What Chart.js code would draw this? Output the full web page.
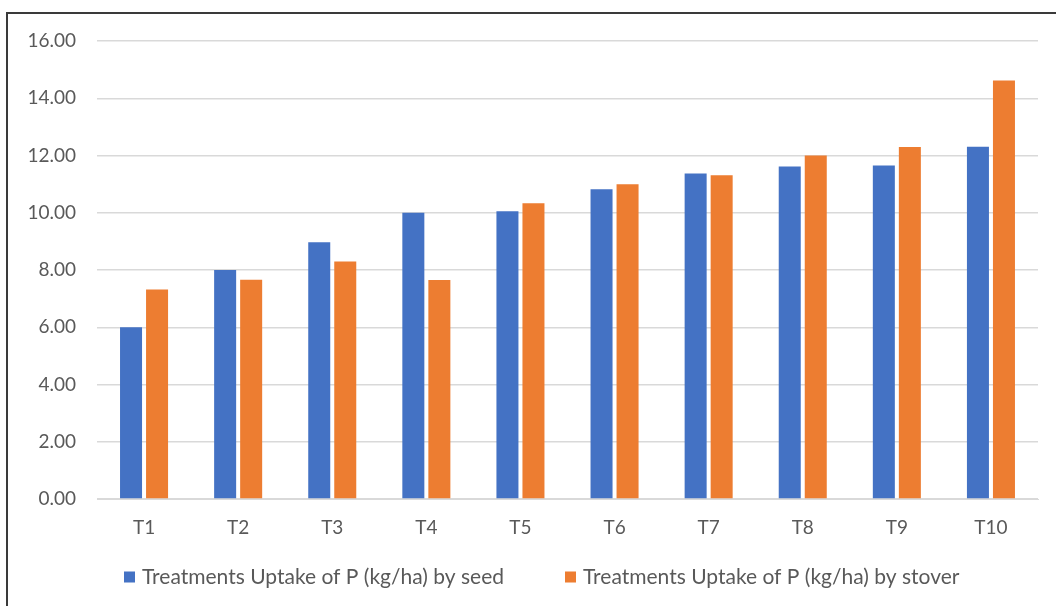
<!DOCTYPE html>
<html>
<head>
<meta charset="utf-8">
<script src="https://cdn.jsdelivr.net/npm/chart.js@4.4.0/dist/chart.umd.min.js"></script>
<style>
  html, body { margin: 0; padding: 0; background: #fff; }
  #wrap { position: relative; width: 1056px; height: 606px; overflow: hidden; }
  #frame { position: absolute; left: 6px; top: 12px; width: 1080px; height: 640px;
           border-left: 2px solid #3a3a3a; border-top: 2px solid #3a3a3a; box-sizing: border-box; }
  canvas { position: absolute; left: 0; top: 0; }
</style>
</head>
<body>
<div id="wrap">
  <div id="frame"></div>
  <canvas id="c" width="1056" height="606"></canvas>
</div>
<script>
const categories = ['T1', 'T2', 'T3', 'T4', 'T5', 'T6', 'T7', 'T8', 'T9', 'T10'];
const seedLabel = 'Treatments Uptake of P (kg/ha) by seed';
const stoverLabel = 'Treatments Uptake of P (kg/ha) by stover';
const seedUptake = [6.00, 8.00, 8.97, 10.00, 10.05, 10.82, 11.37, 11.62, 11.65, 12.31];
const stoverUptake = [7.32, 7.66, 8.30, 7.65, 10.33, 11.00, 11.31, 12.00, 12.30, 14.62];
const yMin = 0, yMax = 16, yStep = 2;

const FONT = 'Lato, "Open Sans", sans-serif';
const TEXT = '#595959';

// Legend row under the axis, one swatch + label per dataset
const bottomLegend = {
  id: 'bottomLegend',
  afterDraw(chart) {
    const ctx = chart.ctx;
    const xs = [124, 565];
    const y = 577;
    ctx.save();
    ctx.font = '21px ' + FONT;
    ctx.textBaseline = 'middle';
    ctx.textAlign = 'left';
    chart.data.datasets.forEach((ds, i) => {
      ctx.fillStyle = ds.backgroundColor;
      ctx.fillRect(xs[i], y - 5.5, 11, 11);
      ctx.fillStyle = TEXT;
      ctx.fillText(ds.label, xs[i] + 18, y);
    });
    ctx.restore();
  }
};

new Chart(document.getElementById('c'), {
  type: 'bar',
  data: {
    labels: categories,
    datasets: [
      { label: seedLabel, data: seedUptake, backgroundColor: '#4472C4',
        categoryPercentage: 0.553, barPercentage: 0.846 },
      { label: stoverLabel, data: stoverUptake, backgroundColor: '#ED7D31',
        categoryPercentage: 0.553, barPercentage: 0.846 }
    ]
  },
  options: {
    responsive: false,
    animation: false,
    devicePixelRatio: 1,
    layout: { padding: { left: 0, right: 18, top: 41, bottom: 0 } },
    plugins: { legend: { display: false }, tooltip: { enabled: false } },
    scales: {
      x: {
        grid: { display: false, drawTicks: false },
        border: { display: true, color: '#d9d9d9', width: 1 },
        ticks: { color: TEXT, font: { family: FONT, size: 19 }, padding: 17 },
        afterFit(scale) { scale.height = 107; }
      },
      y: {
        min: yMin, max: yMax,
        grid: { color: '#d9d9d9', lineWidth: 1.5, drawTicks: false },
        border: { display: false },
        ticks: {
          stepSize: yStep, color: TEXT, font: { family: FONT, size: 19 }, padding: 21,
          callback: v => v.toFixed(2)
        },
        afterFit(scale) { scale.width = 97; }
      }
    }
  },
  plugins: [bottomLegend]
});
</script>
</body>
</html>
